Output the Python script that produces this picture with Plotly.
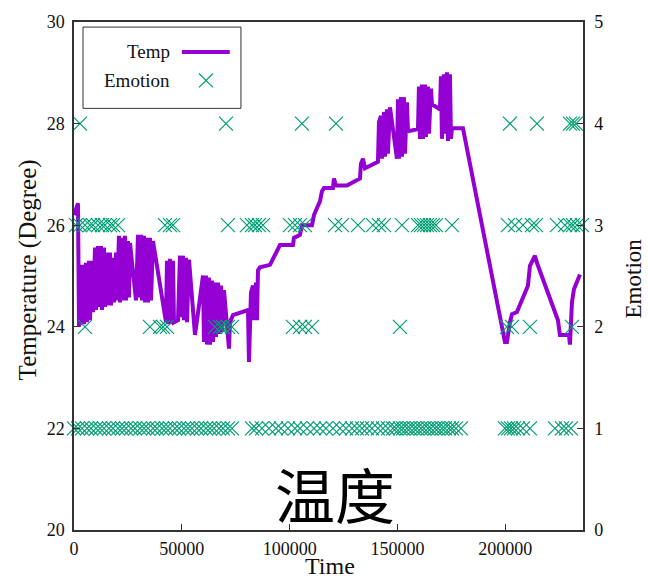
import plotly.graph_objects as go

# Temperature log (time in s, degree C)
temp_time = [
    0, 930, 1850, 2320,
    2780, 3250, 4170, 4640, 5560, 6030, 6950, 7420, 8340, 8810,
    9740, 10200, 11130, 11590, 12520, 12980, 13910, 14370, 15300, 15760,
    16690, 17150, 18080, 18540, 19470,
    19930, 20860, 21330, 22250, 22720, 23640, 24110, 25030, 25500, 25960,
    28740,
    29670, 30130, 31060, 31520, 32450, 32920, 33840, 34310, 35230,
    35700, 36620, 42650,
    43110, 43580, 44510, 44970, 45900, 46360,
    48220, 49140, 49610, 50530, 51000, 51920, 52390, 53310, 56100,
    58410,
    59800, 60270, 61190, 61660, 62590, 63050, 63980, 64440, 65370, 65830,
    66760, 67220, 68150, 68610, 69540, 71860, 72320,
    73710, 80670,
    81130, 82060, 82980, 83450, 84380, 84840, 85300, 86230,
    90870, 95500, 101530, 101990, 104770, 105700, 110340, 111270, 112660,
    114050, 114970, 115900, 120070, 120540, 121460, 126560, 132590, 133050,
    133980, 134910, 140930,
    141400, 142330, 142790, 143720, 144180, 145110, 145570, 146500, 149740,
    150210, 150670, 151600, 152060, 152990, 153450, 154380, 154840, 159480,
    159940, 160410, 161330, 161800, 162720, 163190, 164110, 164580, 165510,
    165970, 169680,
    170140, 170600, 171530, 172000, 172920, 173390, 174310, 174780, 175240,
    180340,
    199810, 200740, 202130, 203060, 205370, 210470, 211400, 212790, 213720,
    214650, 223460, 224380, 225310, 229490, 229950, 230880, 231800, 233200,
    234590,
]
temp_value = [
    26.20, 26.34, 26.43, 24.00,
    25.22, 24.04, 25.22, 24.05, 25.26, 24.09, 25.30, 24.13, 25.30, 24.29,
    25.56, 24.33, 25.59, 24.39, 25.59, 24.33, 25.56, 24.39, 25.46, 24.42,
    25.46, 24.42, 25.36, 24.48, 25.46,
    24.52, 25.79, 24.48, 25.75, 24.52, 25.79, 24.52, 25.69, 24.58, 25.65,
    24.52,
    25.81, 24.58, 25.81, 24.52, 25.79, 24.48, 25.75, 24.48, 25.75,
    24.52, 25.69, 24.09,
    25.30, 24.05, 25.34, 24.05, 25.30, 24.09,
    24.13, 25.40, 24.19, 25.40, 24.13, 25.36, 24.09, 25.32, 23.84,
    24.56,
    25.01, 23.70, 25.01, 23.65, 24.97, 23.65, 24.91, 23.70, 24.87, 23.80,
    24.87, 23.86, 24.81, 23.90, 24.72, 23.57, 24.09,
    24.23, 24.33,
    23.31, 24.68, 24.81, 24.13, 24.87, 24.13, 25.11, 25.17,
    25.22, 25.61, 25.61, 25.75, 25.81, 26.00, 26.00, 26.20, 26.34,
    26.47, 26.67, 26.73, 26.73, 26.92, 26.78, 26.78, 26.92, 27.21,
    27.31, 27.12, 27.25,
    28.03, 28.15, 27.31, 28.23, 27.35, 28.28, 27.41, 28.32, 27.31,
    28.48, 27.31, 28.52, 27.35, 28.52, 27.41, 28.42, 27.85, 27.89,
    28.73, 27.70, 28.77, 27.70, 28.77, 27.74, 28.73, 27.80, 28.69,
    28.38, 28.28,
    28.93, 27.70, 28.97, 27.80, 29.01, 27.66, 28.97, 27.70, 27.91,
    27.91,
    23.70, 23.70, 24.09, 24.25, 24.29, 24.81, 25.20, 25.30, 25.40,
    25.26, 24.23, 24.13, 23.84, 23.84, 23.65, 24.48, 24.74, 24.87,
    25.03,
]

# Emotion labels (level 1..4) and the times they were recorded
emo1_time = [
    0, 1850, 3710, 6030, 7880, 10200, 12050, 13910, 16230, 18080, 20400,
    22250, 24110, 26430, 28280, 30600, 32450, 34310, 36620, 38480, 40800,
    42650, 44510, 46820, 48680, 51000, 52850, 54700, 57020, 58880, 61200,
    63050, 64900, 67220, 69080, 71390, 73250,
    82520, 84380, 87160, 90400, 93650, 95970, 99210, 102460, 104770, 108020,
    111260, 114050, 116830, 120070, 123320, 126100, 128880,
    131200, 133520, 135830, 138150, 140930, 143250, 145570, 147890, 149280,
    151130, 152520, 154380, 155770, 157620, 159010, 160870, 162260, 164110,
    165510, 167360, 168750, 170600, 172000, 173850, 175240, 177100, 179410,
    199810, 201200, 202590, 203980, 205840, 208160, 211400,
    222990, 226240, 228090, 230410,
]
emo2_time = [
    5100, 35230, 39870, 41260, 43110, 65370, 67690, 69080, 71390, 73250,
    101530, 104770, 107090, 110340, 151130, 200740, 203060, 211400, 230880,
]
emo3_time = [
    930, 2780, 5100, 7420, 8810, 11130, 12980, 14370, 16690, 18080, 20400,
    42190, 44510, 45900, 71390, 80200, 82520, 83910, 85770, 87620,
    100140, 102460, 104770, 107090, 121000, 124240, 131660, 138620, 141400,
    143720, 152060, 159480, 160870, 162260, 163650, 165040, 166430, 167820,
    175240, 201200, 204450, 208160, 212330, 214190, 223920, 227640, 229950,
    231330, 233200, 235510,
]
emo4_time = [2780, 70470, 105700, 121460, 202130, 214650, 229950, 231330, 232720]

emotion_time = emo1_time + emo2_time + emo3_time + emo4_time
emotion_value = ([1] * len(emo1_time) + [2] * len(emo2_time)
                 + [3] * len(emo3_time) + [4] * len(emo4_time))

x_ticks = [0, 50000, 100000, 150000, 200000]
temp_ticks = [20, 22, 24, 26, 28, 30]
emotion_ticks = [0, 1, 2, 3, 4, 5]

TEMP_COLOR = "#9400d3"
EMO_COLOR = "#009e73"
SERIF = "Liberation Serif"
AXIS_COLOR = "#333333"

fig = go.Figure()
fig.add_trace(go.Scatter(
    x=temp_time, y=temp_value, mode="lines", name="Temp",
    line=dict(color=TEMP_COLOR, width=4), showlegend=False,
))
fig.add_trace(go.Scatter(
    x=emotion_time, y=emotion_value, mode="markers", name="Emotion",
    yaxis="y2", cliponaxis=False, showlegend=False,
    marker=dict(symbol="x-thin-open", size=14, color=EMO_COLOR,
                line=dict(color=EMO_COLOR, width=1.2)),
))

axis_common = dict(
    showgrid=False, zeroline=False, showline=True, linecolor=AXIS_COLOR,
    linewidth=1.5, ticks="inside", ticklen=6, tickwidth=1, tickcolor=AXIS_COLOR,
    tickfont=dict(family=SERIF, size=18, color="#111111"),
)

fig.update_layout(
    width=648, height=578,
    margin=dict(l=74, r=65, t=17, b=48),
    paper_bgcolor="white", plot_bgcolor="white",
    xaxis=dict(range=[0, 236000], tickvals=x_ticks, tickformat="d",
               mirror=True, ticklabelstandoff=2, **axis_common),
    yaxis=dict(range=[20, 30], tickvals=temp_ticks, ticklabelstandoff=4,
               **axis_common),
    yaxis2=dict(range=[0, 5], tickvals=emotion_ticks, overlaying="y",
                side="right", ticklabelstandoff=6, **axis_common),
)


def label(text, x, y, font, angle=0, xanchor="center"):
    fig.add_annotation(text=text, xref="paper", yref="paper", x=x, y=y,
                       xanchor=xanchor, yanchor="middle", textangle=angle,
                       showarrow=False, font=font)


# axis titles
label("Time", 0.503, -0.070, dict(family=SERIF, size=24, color="#111111"))
label("Temperature (Degree)", -0.0904, 0.513,
      dict(family=SERIF, size=25, color="#111111"), angle=-90)
label("Emotion", 1.100, 0.495, dict(family=SERIF, size=23, color="#111111"),
      angle=-90)

# big caption inside the plot
label("温度", 0.513, 0.074,
      dict(family="Noto Sans CJK SC", size=60, color="black"))

# key box, top-left
fig.add_shape(type="rect", xref="paper", yref="paper", x0=0.0177, x1=0.328,
              y0=0.830, y1=0.990, line=dict(color=AXIS_COLOR, width=1),
              fillcolor="white", layer="above")
key_font = dict(family=SERIF, size=19, color="#111111")
label("Temp", 0.1925, 0.941, key_font, xanchor="right")
label("Emotion", 0.1925, 0.885, key_font, xanchor="right")
fig.add_shape(type="line", xref="paper", yref="paper", x0=0.212, x1=0.306,
              y0=0.941, y1=0.941, line=dict(color=TEMP_COLOR, width=4),
              layer="above")
cx, cy, hx, hy = 0.2593, 0.885, 0.01375, 0.01365
fig.add_shape(type="path", xref="paper", yref="paper",
              path=f"M {cx-hx},{cy-hy} L {cx+hx},{cy+hy} M {cx-hx},{cy+hy} L {cx+hx},{cy-hy}",
              line=dict(color=EMO_COLOR, width=1.2), layer="above")

fig.write_html("out.html")
